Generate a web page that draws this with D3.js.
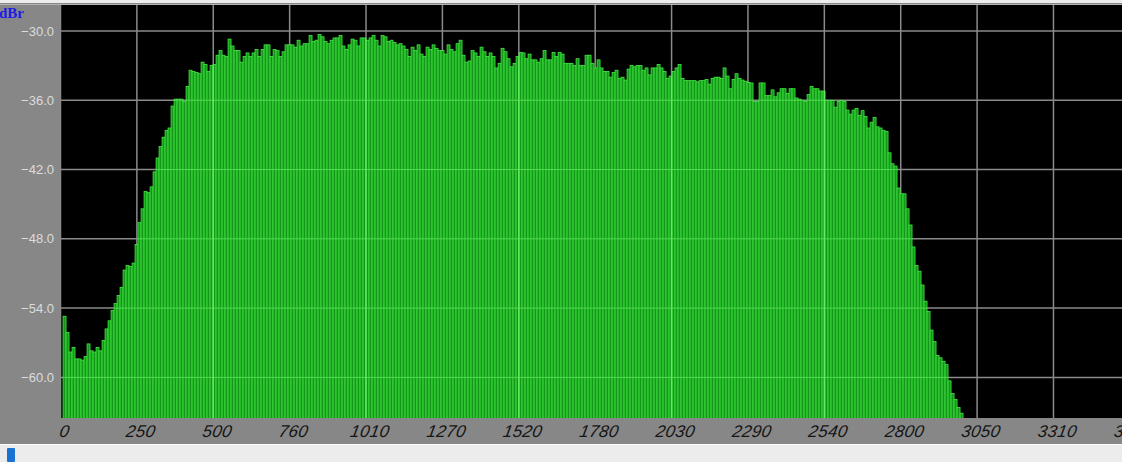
<!DOCTYPE html>
<html><head><meta charset="utf-8">
<script src="https://cdn.jsdelivr.net/npm/d3@7"></script>
<style>html,body{margin:0;padding:0;background:#ededed;overflow:hidden}</style>
</head><body><svg id="c" width="1122" height="462"></svg>
<script>
// ---- data ----
const levels = [
-54.7,-56.1,-57.8,-57.4,-58.4,-58.4,-58.5,-58.2,-57.1,-57.7,
-57.8,-57.4,-57.7,-56.8,-55.8,-55.1,-54.2,-53.6,-52.9,-52.2,
-50.7,-50.3,-50.4,-50.1,-48.5,-46.6,-45.4,-43.9,-44.0,-43.5,
-42.2,-41.0,-40.0,-39.2,-38.6,-38.4,-36.5,-35.9,-35.9,-35.9,
-36.1,-34.8,-33.4,-33.5,-33.6,-33.7,-32.7,-32.9,-33.5,-33.0,
-32.9,-32.1,-31.7,-32.1,-32.2,-30.7,-31.3,-31.7,-31.7,-32.7,
-32.2,-31.9,-32.2,-31.9,-31.6,-32.2,-31.6,-31.2,-31.2,-32.2,
-31.6,-31.7,-32.2,-31.8,-31.2,-31.2,-31.2,-31.4,-30.8,-31.3,
-31.1,-31.1,-30.4,-30.9,-30.8,-30.3,-30.5,-30.9,-31.1,-30.8,
-30.6,-30.6,-30.4,-31.3,-31.6,-31.2,-30.7,-30.8,-31.3,-30.6,
-30.6,-30.8,-30.6,-30.4,-30.8,-31.3,-30.4,-30.5,-30.9,-30.8,
-31.0,-31.2,-31.1,-31.3,-31.6,-32.2,-31.4,-31.7,-31.2,-32.0,
-32.2,-31.4,-31.6,-31.2,-31.5,-31.7,-31.7,-32.0,-31.2,-31.6,
-31.8,-31.1,-30.8,-32.1,-32.7,-32.6,-31.7,-31.9,-32.2,-31.4,
-31.8,-32.2,-31.9,-32.2,-33.2,-32.8,-31.5,-31.8,-32.4,-33.1,
-32.8,-32.2,-31.85,-31.9,-32.4,-32.0,-32.5,-32.5,-32.7,-32.4,
-31.7,-32.5,-32.5,-31.85,-32.2,-31.85,-32.0,-32.8,-32.8,-32.8,
-33.0,-32.4,-33.0,-33.0,-32.1,-32.1,-32.8,-33.2,-32.5,-33.2,
-33.5,-33.5,-34.0,-33.6,-33.4,-34.1,-34.0,-34.25,-33.3,-33.0,
-33.1,-33.0,-33.0,-33.4,-33.2,-33.8,-33.2,-33.2,-32.9,-33.2,
-33.5,-34.1,-33.9,-33.5,-33.2,-32.9,-34.1,-34.3,-34.3,-34.3,
-34.3,-34.4,-34.3,-34.3,-34.2,-34.6,-34.1,-34.0,-34.0,-34.1,
-33.2,-33.9,-35.0,-34.2,-33.7,-34.1,-34.25,-34.35,-34.45,-34.5,
-36.1,-36.1,-34.5,-34.5,-35.6,-35.6,-35.1,-35.7,-35.35,-35.0,
-35.0,-35.4,-35.0,-35.0,-35.8,-35.9,-36.0,-36.1,-35.5,-34.8,
-35.0,-35.0,-35.2,-35.2,-36.0,-36.0,-36.0,-36.6,-36.1,-36.0,
-36.1,-36.85,-37.2,-36.85,-36.7,-37.3,-36.9,-37.4,-38.4,-37.9,
-37.5,-38.3,-38.4,-38.6,-38.7,-40.55,-41.5,-41.7,-43.6,-44.1,
-44.1,-45.4,-46.8,-48.7,-50.3,-50.8,-52.0,-53.4,-54.3,-55.9,
-56.9,-58.1,-58.3,-58.6,-58.9,-60.3,-61.4,-61.9,-62.6,-63.1
];
const binStartHz = 13.5;   // centre of the first FFT bin
const binStepHz = 10;      // uniform bin width
const freqs = levels.map((_, i) => binStartHz + binStepHz * i);

const xTickHz = [0, 254.6, 509.2, 763.8, 1018.4, 1273.0, 1527.7, 1782.3, 2036.9, 2291.5, 2546.1, 2800.7, 3055.3, 3309.9, 3564.5];
const xTickLabels = ["0","250","500","760","1010","1270","1520","1780","2030","2290","2540","2800","3050","3310","3560"];
const yTicks = [-30, -36, -42, -48, -54, -60];
const yUnit = "dBr";

// ---- layout ----
const W = 1122, H = 462;
const plot = {left: 60, top: 5, right: 1122, bottom: 418};
const svg = d3.select("#c");

const x = d3.scaleLinear().domain([0, 3538.3]).range([60.5, 1122]);
const y = d3.scaleLinear().domain([-63.56, -27.75]).range([418.5, 5]);

// backgrounds
svg.append("rect").attr("x",0).attr("y",0).attr("width",W).attr("height",H).attr("fill","#ededed");
svg.append("rect").attr("x",0).attr("y",3).attr("width",W).attr("height",441).attr("fill","#878787");
svg.append("rect").attr("x",0).attr("y",4).attr("width",W).attr("height",1).attr("fill","#b4b4b4");
svg.append("rect").attr("x",plot.left).attr("y",plot.top).attr("width",plot.right-plot.left).attr("height",plot.bottom-plot.top).attr("fill","#000");
svg.append("rect").attr("x",0).attr("y",444).attr("width",W).attr("height",1).attr("fill","#fafafa");
svg.append("rect").attr("x",0).attr("y",445).attr("width",W).attr("height",17).attr("fill","#ececec");
svg.append("rect").attr("x",7).attr("y",448).attr("width",8).attr("height",14).attr("rx",1).attr("fill","#1a73d2");

const defs = svg.append("defs");
defs.append("clipPath").attr("id","plotclip").append("rect")
  .attr("x",plot.left).attr("y",plot.top).attr("width",plot.right-plot.left).attr("height",plot.bottom-plot.top);

const barX = (d,i)=>x(freqs[i]-binStepHz/2);
const barW = (d,i)=>x(freqs[i]+binStepHz/2)-x(freqs[i]-binStepHz/2);
defs.append("clipPath").attr("id","barclip").selectAll("rect").data(levels).join("rect")
  .attr("x",barX).attr("width",barW)
  .attr("y",d=>y(d)).attr("height",d=>y.range()[0]-y(d));

// grid under the bars (visible on black)
const gUnder = svg.append("g").attr("clip-path","url(#plotclip)");
gUnder.selectAll("line.h").data(yTicks).join("line")
  .attr("x1",plot.left).attr("x2",plot.right).attr("y1",d=>y(d)).attr("y2",d=>y(d))
  .attr("stroke","#8a8a8a").attr("stroke-width",1.5);
gUnder.selectAll("line.v").data(xTickHz).join("line")
  .attr("x1",d=>x(d)).attr("x2",d=>x(d)).attr("y1",plot.top).attr("y2",plot.bottom)
  .attr("stroke","#8a8a8a").attr("stroke-width",1.5);

// bars
const bars = svg.append("g").attr("clip-path","url(#plotclip)");
bars.selectAll("rect").data(levels).join("rect")
  .attr("x",barX).attr("width",barW)
  .attr("y",d=>y(d)).attr("height",d=>y.range()[0]-y(d))
  .attr("fill","#14961a").attr("stroke","#44ee44").attr("stroke-width",0.75);

// grid seen through the bars (light green)
const gOver = svg.append("g").attr("clip-path","url(#barclip)");
gOver.selectAll("line.h").data(yTicks).join("line")
  .attr("x1",plot.left).attr("x2",plot.right).attr("y1",d=>y(d)).attr("y2",d=>y(d))
  .attr("stroke","#52d852").attr("stroke-width",1);
gOver.selectAll("line.v").data(xTickHz.filter((d,i)=>i%2===0)).join("line")
  .attr("x1",d=>x(d)).attr("x2",d=>x(d)).attr("y1",plot.top).attr("y2",plot.bottom)
  .attr("stroke","#62ea62").attr("stroke-width",1.5);

// y labels
svg.append("g").selectAll("text").data(yTicks).join("text")
  .attr("x",54).attr("y",d=>y(d)).attr("dy","0.35em")
  .attr("text-anchor","end").attr("fill","#dcdcdc")
  .style("font","13px 'Liberation Sans', Arial, sans-serif")
  .text(d=>d3.format(".1f")(d));

// x labels (strongly slanted)
svg.append("g").selectAll("text").data(xTickHz).join("text")
  .attr("transform",d=>`translate(${x(d)+3},437) skewX(-10)`)
  .attr("text-anchor","middle").attr("fill","#151515")
  .style("font","italic 17px 'Liberation Sans', Arial, sans-serif")
  .style("letter-spacing","0.3px")
  .text((d,i)=>xTickLabels[i]);

// unit label
svg.append("text").attr("x",-1).attr("y",18)
  .attr("fill","#1c1ce6")
  .style("font","bold 15px 'Liberation Serif', 'Times New Roman', serif")
  .text(yUnit);
</script>
</body></html>
